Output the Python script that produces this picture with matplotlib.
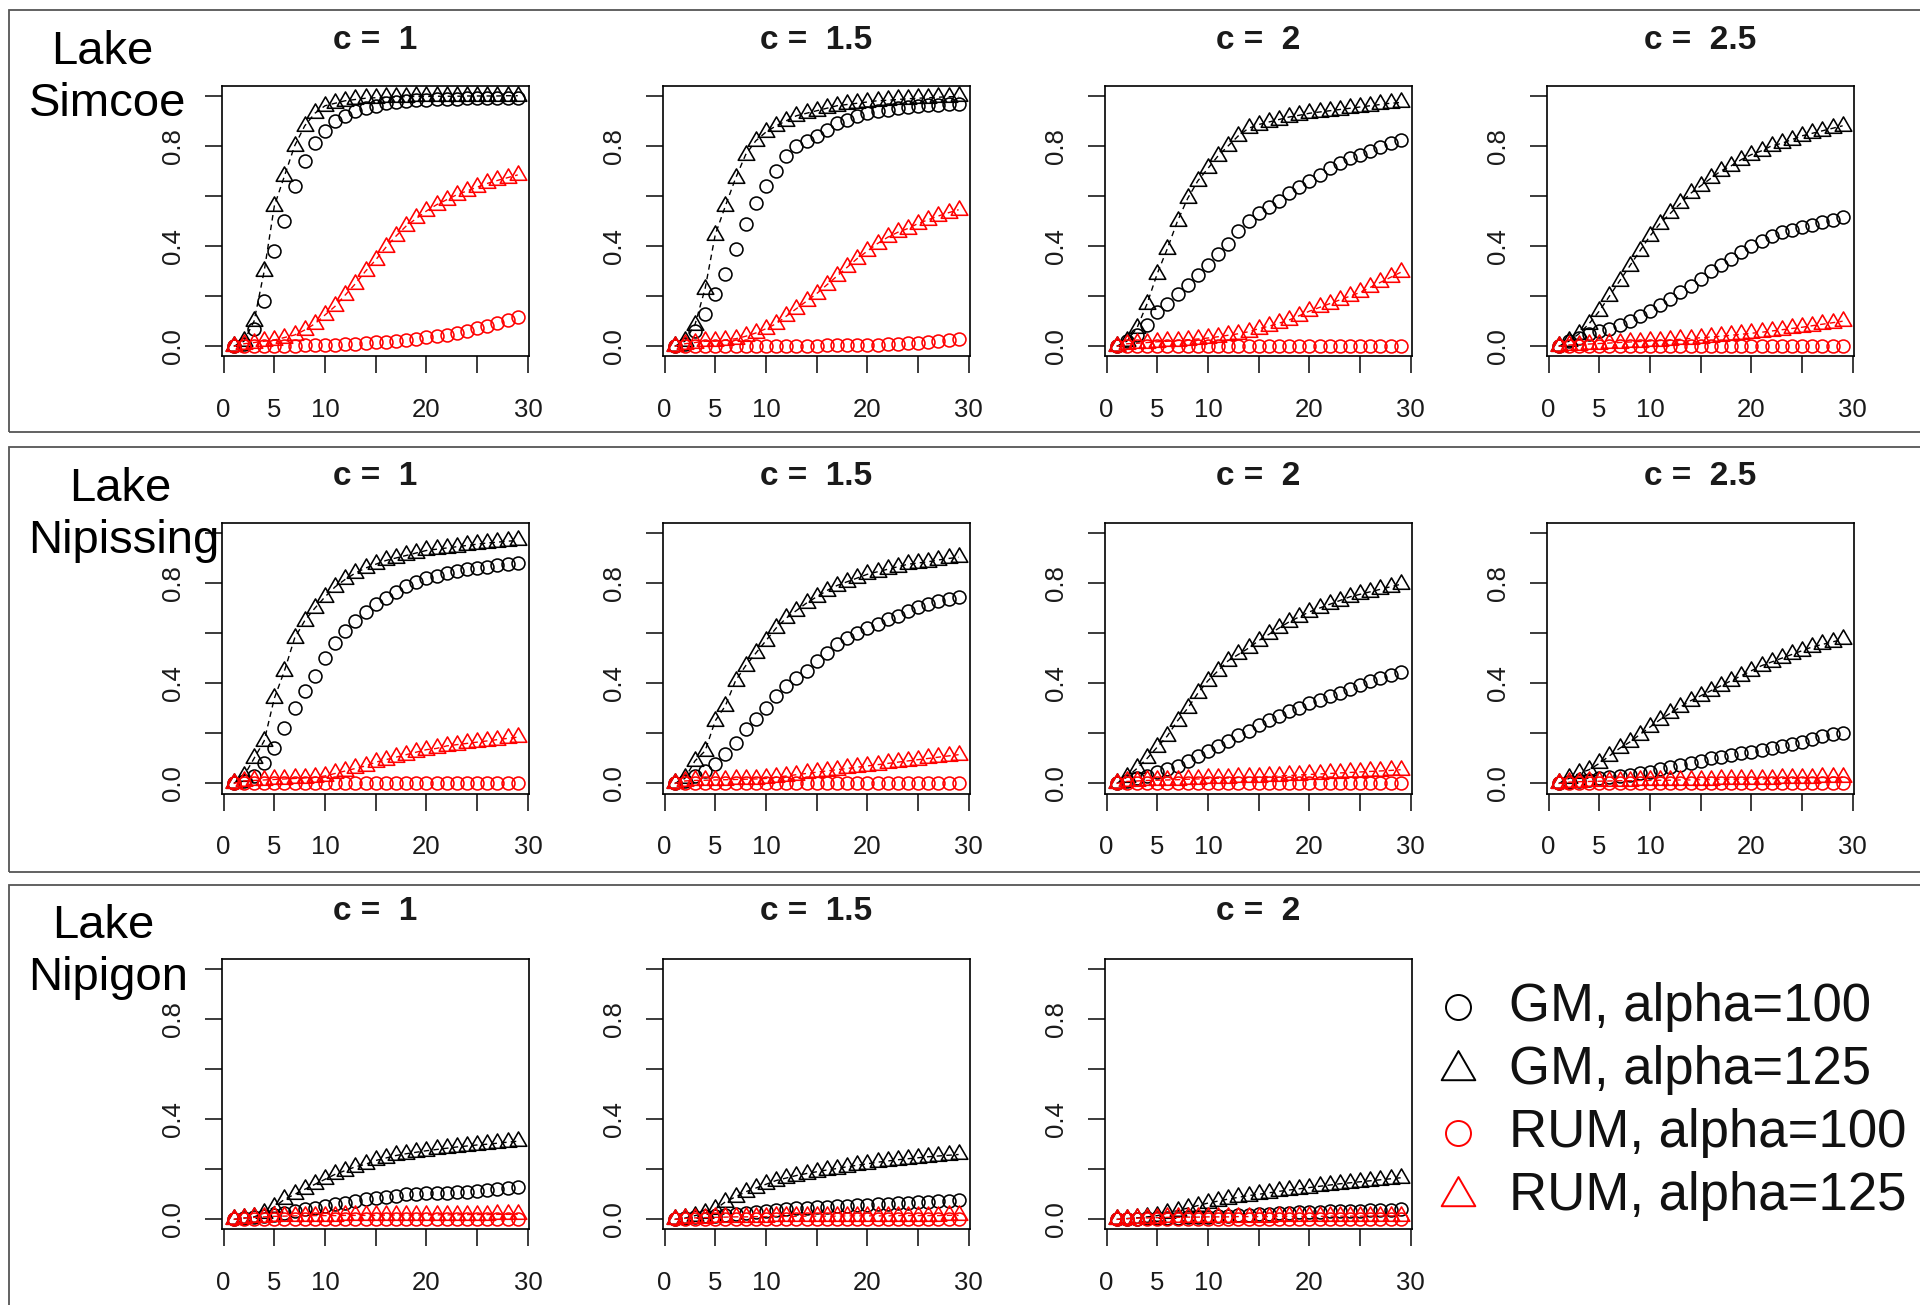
import numpy as np
import matplotlib
matplotlib.use("Agg")
import matplotlib.pyplot as plt
from matplotlib.path import Path
from matplotlib.lines import Line2D
from matplotlib.patches import Rectangle

plt.rcParams['font.family'] = ['Liberation Sans', 'DejaVu Sans']

# periods
t = np.arange(1, 30)

# ---- Lake Simcoe ----
sim_c1_gm100 = [0.0, 0.01, 0.07, 0.18, 0.38, 0.50, 0.64, 0.74, 0.81, 0.86, 0.90, 0.92, 0.94, 0.95, 0.96,
                0.97, 0.975, 0.98, 0.982, 0.984, 0.986, 0.987, 0.988, 0.989, 0.99, 0.99, 0.991, 0.992, 0.992]
sim_c1_gm125 = [0.0, 0.02, 0.10, 0.30, 0.56, 0.68, 0.80, 0.88, 0.93, 0.96, 0.97, 0.98, 0.985, 0.99, 0.992,
                0.994, 0.995, 0.996, 0.997, 0.997, 0.998, 0.998, 0.998, 0.999, 0.999, 0.999, 0.999, 1.0, 1.0]
sim_c1_rum100 = [0.0, 0.0, 0.001, 0.001, 0.002, 0.002, 0.003, 0.004, 0.004, 0.005, 0.007, 0.009, 0.011, 0.013, 0.016,
                 0.019, 0.023, 0.027, 0.031, 0.036, 0.041, 0.047, 0.054, 0.062, 0.071, 0.081, 0.092, 0.105, 0.118]
sim_c1_rum125 = [0.0, 0.01, 0.015, 0.02, 0.025, 0.035, 0.045, 0.065, 0.09, 0.125, 0.16, 0.205, 0.25, 0.30, 0.345,
                 0.395, 0.44, 0.48, 0.51, 0.54, 0.565, 0.585, 0.605, 0.62, 0.635, 0.65, 0.662, 0.673, 0.684]

sim_c15_gm100 = [0.0, 0.01, 0.06, 0.13, 0.21, 0.29, 0.39, 0.49, 0.57, 0.64, 0.70, 0.76, 0.80, 0.82, 0.84,
                 0.865, 0.89, 0.905, 0.92, 0.93, 0.94, 0.945, 0.95, 0.955, 0.958, 0.961, 0.964, 0.966, 0.968]
sim_c15_gm125 = [0.0, 0.02, 0.086, 0.23, 0.445, 0.56, 0.67, 0.765, 0.82, 0.855, 0.88, 0.90, 0.92, 0.93, 0.94,
                 0.95, 0.96, 0.965, 0.97, 0.975, 0.98, 0.982, 0.985, 0.988, 0.99, 0.992, 0.994, 0.996, 0.997]
sim_c15_rum100 = [0.0, 0.0, 0.0, 0.0, 0.0, 0.001, 0.001, 0.001, 0.001, 0.002, 0.002, 0.002, 0.003, 0.003, 0.003,
                  0.004, 0.004, 0.005, 0.005, 0.006, 0.007, 0.008, 0.01, 0.012, 0.014, 0.017, 0.02, 0.024, 0.029]
sim_c15_rum125 = [0.0, 0.01, 0.015, 0.02, 0.02, 0.025, 0.03, 0.04, 0.053, 0.07, 0.09, 0.12, 0.15, 0.18, 0.21,
                  0.245, 0.28, 0.315, 0.35, 0.38, 0.41, 0.435, 0.455, 0.47, 0.49, 0.505, 0.52, 0.533, 0.545]

sim_c2_gm100 = [0.0, 0.02, 0.045, 0.085, 0.135, 0.17, 0.21, 0.245, 0.285, 0.325, 0.37, 0.41, 0.46, 0.50, 0.53,
                0.555, 0.58, 0.61, 0.635, 0.66, 0.685, 0.71, 0.73, 0.75, 0.765, 0.78, 0.795, 0.81, 0.822]
sim_c2_gm125 = [0.0, 0.02, 0.073, 0.17, 0.29, 0.39, 0.50, 0.59, 0.66, 0.71, 0.76, 0.80, 0.84, 0.87, 0.885,
                0.895, 0.905, 0.915, 0.922, 0.93, 0.935, 0.94, 0.945, 0.95, 0.955, 0.96, 0.965, 0.97, 0.973]
sim_c2_rum100 = [0.0, 0.0, 0.0, 0.0, 0.0, 0.0, 0.0, 0.001, 0.001, 0.001, 0.001, 0.001, 0.001, 0.001, 0.001,
                 0.001, 0.001, 0.001, 0.001, 0.001, 0.002, 0.002, 0.002, 0.002, 0.002, 0.002, 0.002, 0.002, 0.002]
sim_c2_rum125 = [0.0, 0.01, 0.012, 0.015, 0.018, 0.02, 0.023, 0.026, 0.029, 0.033, 0.038, 0.044, 0.05, 0.058, 0.07,
                 0.08, 0.092, 0.105, 0.122, 0.14, 0.155, 0.17, 0.185, 0.20, 0.215, 0.235, 0.255, 0.275, 0.295]

sim_c25_gm100 = [0.0, 0.02, 0.035, 0.05, 0.06, 0.07, 0.085, 0.10, 0.12, 0.14, 0.165, 0.19, 0.215, 0.24, 0.27,
                 0.30, 0.325, 0.35, 0.375, 0.40, 0.42, 0.44, 0.455, 0.465, 0.475, 0.485, 0.495, 0.505, 0.515]
sim_c25_gm125 = [0.0, 0.02, 0.05, 0.09, 0.14, 0.20, 0.26, 0.32, 0.38, 0.44, 0.49, 0.53, 0.57, 0.61, 0.64,
                 0.67, 0.70, 0.72, 0.745, 0.765, 0.78, 0.80, 0.81, 0.825, 0.84, 0.85, 0.86, 0.87, 0.88]
sim_c25_rum100 = [0.0, 0.0, 0.0, 0.0, 0.0, 0.0, 0.0, 0.0, 0.0, 0.0, 0.0, 0.0, 0.0, 0.0, 0.0,
                  0.0, 0.0, 0.0, 0.0, 0.0, 0.0, 0.0, 0.0, 0.0, 0.0, 0.0, 0.0, 0.0, 0.0]
sim_c25_rum125 = [0.0, 0.005, 0.007, 0.009, 0.011, 0.013, 0.015, 0.017, 0.019, 0.021, 0.023, 0.025, 0.028, 0.031, 0.034,
                  0.037, 0.04, 0.044, 0.048, 0.052, 0.056, 0.061, 0.066, 0.071, 0.076, 0.082, 0.088, 0.094, 0.10]

# ---- Lake Nipissing ----
nip_c1_gm100 = [0.0, 0.01, 0.03, 0.08, 0.14, 0.22, 0.30, 0.37, 0.43, 0.50, 0.56, 0.61, 0.65, 0.685, 0.715,
                0.74, 0.765, 0.79, 0.805, 0.82, 0.83, 0.84, 0.85, 0.855, 0.86, 0.865, 0.87, 0.875, 0.88]
nip_c1_gm125 = [0.0, 0.03, 0.10, 0.17, 0.34, 0.45, 0.58, 0.65, 0.70, 0.745, 0.785, 0.815, 0.84, 0.86, 0.875,
                0.89, 0.90, 0.91, 0.92, 0.93, 0.935, 0.94, 0.945, 0.95, 0.955, 0.96, 0.963, 0.967, 0.97]
nip_c1_rum100 = [0.0, 0.0, 0.0, 0.0, 0.0, 0.0, 0.0, 0.0, 0.0, 0.0, 0.001, 0.001, 0.001, 0.001, 0.001,
                 0.001, 0.001, 0.001, 0.001, 0.001, 0.001, 0.001, 0.001, 0.001, 0.002, 0.002, 0.002, 0.002, 0.002]
nip_c1_rum125 = [0.0, 0.01, 0.012, 0.014, 0.016, 0.018, 0.02, 0.022, 0.025, 0.03, 0.04, 0.05, 0.06, 0.07, 0.085,
                 0.095, 0.105, 0.115, 0.125, 0.135, 0.14, 0.15, 0.155, 0.16, 0.165, 0.17, 0.175, 0.18, 0.185]

nip_c15_gm100 = [0.0, 0.01, 0.03, 0.05, 0.077, 0.117, 0.163, 0.217, 0.257, 0.30, 0.35, 0.39, 0.42, 0.45, 0.49,
                 0.52, 0.555, 0.58, 0.60, 0.62, 0.635, 0.655, 0.67, 0.69, 0.705, 0.715, 0.728, 0.738, 0.745]
nip_c15_gm125 = [0.0, 0.02, 0.09, 0.13, 0.25, 0.31, 0.41, 0.47, 0.52, 0.57, 0.62, 0.66, 0.69, 0.72, 0.745,
                 0.77, 0.79, 0.805, 0.82, 0.835, 0.845, 0.855, 0.865, 0.875, 0.88, 0.885, 0.892, 0.898, 0.903]
nip_c15_rum100 = [0.0, 0.0, 0.0, 0.0, 0.0, 0.0, 0.0, 0.0, 0.0, 0.0, 0.0, 0.0, 0.0, 0.0, 0.0,
                  0.0, 0.0, 0.0, 0.0, 0.0, 0.0, 0.0, 0.0, 0.0, 0.0, 0.0, 0.0, 0.0, 0.0]
nip_c15_rum125 = [0.0, 0.01, 0.012, 0.013, 0.014, 0.015, 0.016, 0.017, 0.018, 0.02, 0.025, 0.03, 0.035, 0.04, 0.045,
                  0.05, 0.055, 0.06, 0.065, 0.07, 0.075, 0.08, 0.085, 0.09, 0.095, 0.10, 0.105, 0.11, 0.115]

nip_c2_gm100 = [0.0, 0.01, 0.02, 0.03, 0.044, 0.057, 0.07, 0.09, 0.11, 0.13, 0.15, 0.17, 0.195, 0.21, 0.235,
                0.255, 0.27, 0.29, 0.30, 0.32, 0.335, 0.35, 0.363, 0.376, 0.395, 0.41, 0.422, 0.432, 0.443]
nip_c2_gm125 = [0.0, 0.025, 0.06, 0.10, 0.145, 0.19, 0.25, 0.30, 0.36, 0.41, 0.45, 0.49, 0.515, 0.54, 0.57,
                0.595, 0.62, 0.645, 0.665, 0.685, 0.70, 0.715, 0.73, 0.745, 0.755, 0.765, 0.775, 0.785, 0.795]
nip_c2_rum100 = [0.0, 0.0, 0.0, 0.0, 0.0, 0.0, 0.0, 0.0, 0.0, 0.0, 0.0, 0.0, 0.0, 0.0, 0.0,
                 0.0, 0.0, 0.0, 0.0, 0.0, 0.0, 0.0, 0.0, 0.0, 0.0, 0.0, 0.0, 0.0, 0.0]
nip_c2_rum125 = [0.0, 0.008, 0.01, 0.012, 0.013, 0.014, 0.015, 0.017, 0.018, 0.02, 0.021, 0.022, 0.024, 0.025, 0.026,
                 0.028, 0.03, 0.032, 0.034, 0.036, 0.038, 0.04, 0.042, 0.044, 0.046, 0.048, 0.05, 0.052, 0.055]

nip_c25_gm100 = [0.0, 0.005, 0.01, 0.015, 0.02, 0.025, 0.03, 0.035, 0.04, 0.046, 0.056, 0.066, 0.075, 0.082, 0.088,
                 0.10, 0.106, 0.112, 0.12, 0.126, 0.133, 0.14, 0.148, 0.158, 0.166, 0.178, 0.188, 0.196, 0.20]
nip_c25_gm125 = [0.0, 0.02, 0.04, 0.055, 0.08, 0.11, 0.14, 0.165, 0.195, 0.225, 0.255, 0.28, 0.305, 0.33, 0.35,
                 0.37, 0.39, 0.41, 0.43, 0.45, 0.47, 0.485, 0.50, 0.515, 0.53, 0.545, 0.555, 0.565, 0.575]
nip_c25_rum100 = [0.0, 0.0, 0.0, 0.0, 0.0, 0.0, 0.0, 0.0, 0.0, 0.0, 0.0, 0.0, 0.0, 0.0, 0.0,
                  0.0, 0.0, 0.0, 0.0, 0.0, 0.0, 0.0, 0.0, 0.0, 0.0, 0.0, 0.0, 0.0, 0.0]
nip_c25_rum125 = [0.0, 0.005, 0.007, 0.008, 0.009, 0.01, 0.011, 0.011, 0.012, 0.012, 0.013, 0.013, 0.014, 0.014, 0.015,
                  0.015, 0.016, 0.016, 0.017, 0.017, 0.018, 0.019, 0.02, 0.021, 0.022, 0.023, 0.024, 0.025, 0.026]

# ---- Lake Nipigon ----
ngn_c1_gm100 = [0.0, 0.005, 0.008, 0.012, 0.017, 0.025, 0.032, 0.04, 0.047, 0.054, 0.06, 0.065, 0.072, 0.08, 0.084,
                0.088, 0.094, 0.10, 0.102, 0.104, 0.105, 0.106, 0.108, 0.11, 0.113, 0.117, 0.121, 0.125, 0.128]
ngn_c1_gm125 = [0.0, 0.005, 0.01, 0.025, 0.05, 0.08, 0.10, 0.12, 0.14, 0.16, 0.18, 0.195, 0.21, 0.22, 0.235,
                0.245, 0.255, 0.262, 0.268, 0.274, 0.279, 0.284, 0.289, 0.293, 0.297, 0.30, 0.304, 0.308, 0.312]
ngn_c1_rum100 = [0.0, 0.0, 0.0, 0.0, 0.0, 0.0, 0.0, 0.0, 0.0, 0.0, 0.0, 0.0, 0.0, 0.0, 0.0,
                 0.0, 0.0, 0.0, 0.0, 0.0, 0.0, 0.0, 0.0, 0.0, 0.0, 0.0, 0.0, 0.0, 0.0]
ngn_c1_rum125 = [0.0, 0.006, 0.008, 0.01, 0.012, 0.013, 0.014, 0.014, 0.015, 0.015, 0.015, 0.016, 0.016, 0.016, 0.016,
                 0.017, 0.017, 0.017, 0.017, 0.018, 0.018, 0.018, 0.018, 0.019, 0.019, 0.019, 0.02, 0.02, 0.02]

ngn_c15_gm100 = [0.0, 0.004, 0.008, 0.012, 0.015, 0.018, 0.022, 0.026, 0.03, 0.034, 0.038, 0.041, 0.044, 0.047, 0.049,
                 0.051, 0.053, 0.055, 0.057, 0.059, 0.061, 0.063, 0.065, 0.067, 0.069, 0.071, 0.073, 0.075, 0.077]
ngn_c15_gm125 = [0.0, 0.005, 0.015, 0.025, 0.04, 0.07, 0.09, 0.11, 0.125, 0.14, 0.155, 0.165, 0.175, 0.183, 0.19,
                 0.197, 0.203, 0.21, 0.216, 0.222, 0.228, 0.233, 0.238, 0.242, 0.246, 0.25, 0.253, 0.256, 0.259]
ngn_c15_rum100 = [0.0, 0.0, 0.0, 0.0, 0.0, 0.0, 0.0, 0.0, 0.0, 0.0, 0.0, 0.0, 0.0, 0.0, 0.0,
                  0.0, 0.0, 0.0, 0.0, 0.0, 0.0, 0.0, 0.0, 0.0, 0.0, 0.0, 0.0, 0.0, 0.0]
ngn_c15_rum125 = [0.0, 0.004, 0.006, 0.007, 0.008, 0.009, 0.01, 0.01, 0.011, 0.011, 0.012, 0.012, 0.012, 0.013, 0.013,
                  0.013, 0.013, 0.014, 0.014, 0.014, 0.014, 0.014, 0.015, 0.015, 0.015, 0.015, 0.015, 0.016, 0.016]

ngn_c2_gm100 = [0.0, 0.002, 0.003, 0.004, 0.005, 0.006, 0.007, 0.008, 0.009, 0.01, 0.012, 0.014, 0.016, 0.018, 0.02,
                0.022, 0.024, 0.026, 0.028, 0.03, 0.031, 0.032, 0.033, 0.034, 0.035, 0.036, 0.037, 0.038, 0.04]
ngn_c2_gm125 = [0.0, 0.003, 0.006, 0.01, 0.015, 0.025, 0.035, 0.045, 0.055, 0.065, 0.073, 0.081, 0.088, 0.095, 0.10,
                0.106, 0.112, 0.117, 0.122, 0.127, 0.132, 0.137, 0.142, 0.146, 0.15, 0.154, 0.158, 0.162, 0.166]
ngn_c2_rum100 = [0.0, 0.0, 0.0, 0.0, 0.0, 0.0, 0.0, 0.0, 0.0, 0.0, 0.0, 0.0, 0.0, 0.0, 0.0,
                 0.0, 0.0, 0.0, 0.0, 0.0, 0.0, 0.0, 0.0, 0.0, 0.0, 0.0, 0.0, 0.0, 0.0]
ngn_c2_rum125 = [0.0, 0.003, 0.005, 0.006, 0.007, 0.008, 0.008, 0.009, 0.009, 0.01, 0.01, 0.01, 0.011, 0.011, 0.011,
                 0.011, 0.012, 0.012, 0.012, 0.012, 0.012, 0.013, 0.013, 0.013, 0.013, 0.013, 0.013, 0.014, 0.014]

lake_names = [("Lake", "Simcoe"), ("Lake", "Nipissing"), ("Lake", "Nipigon")]
c_values = ["1", "1.5", "2", "2.5"]
panels = [
    [(sim_c1_gm100, sim_c1_gm125, sim_c1_rum100, sim_c1_rum125),
     (sim_c15_gm100, sim_c15_gm125, sim_c15_rum100, sim_c15_rum125),
     (sim_c2_gm100, sim_c2_gm125, sim_c2_rum100, sim_c2_rum125),
     (sim_c25_gm100, sim_c25_gm125, sim_c25_rum100, sim_c25_rum125)],
    [(nip_c1_gm100, nip_c1_gm125, nip_c1_rum100, nip_c1_rum125),
     (nip_c15_gm100, nip_c15_gm125, nip_c15_rum100, nip_c15_rum125),
     (nip_c2_gm100, nip_c2_gm125, nip_c2_rum100, nip_c2_rum125),
     (nip_c25_gm100, nip_c25_gm125, nip_c25_rum100, nip_c25_rum125)],
    [(ngn_c1_gm100, ngn_c1_gm125, ngn_c1_rum100, ngn_c1_rum125),
     (ngn_c15_gm100, ngn_c15_gm125, ngn_c15_rum100, ngn_c15_rum125),
     (ngn_c2_gm100, ngn_c2_gm125, ngn_c2_rum100, ngn_c2_rum125)],
]
legend_labels = ["GM, alpha=100", "GM, alpha=125", "RUM, alpha=100", "RUM, alpha=125"]

# R-style open triangle (centroid on the data point)
tri = Path([(0, 1), (0.866, -0.5), (-0.866, -0.5), (0, 1)],
           [Path.MOVETO, Path.LINETO, Path.LINETO, Path.CLOSEPOLY])
styles = [dict(color="black", marker="o", ms=9.3, ls="none"),
          dict(color="black", marker=tri, ms=13.8, ls=(0, (4, 3))),
          dict(color="red", marker="o", ms=9.3, ls="none"),
          dict(color="red", marker=tri, ms=13.8, ls=(0, (4, 3)))]

W, H = 1920, 1305
fig = plt.figure(figsize=(W / 100, H / 100), dpi=100)

col_left = [221.6, 662.5, 1104.5, 1546.5]
row_top = [85.7, 522.9, 958.8]
box_w, box_h = 307.3, 270.6

# row frames
frames = [(9.8, 432.3), (447.0, 872.0), (885.0, 1330.0)]
for top, bot in frames:
    fig.add_artist(Rectangle((8.6 / W, 1 - bot / H), (1940 - 8.6) / W, (bot - top) / H,
                             transform=fig.transFigure, fill=False, edgecolor="#555555", lw=1.3))

title_base = [49.0, 485.5, 920.5]
lake_text = [((102, 64), (108, 116)), ((120, 501), (124, 553)), ((103, 938), (108, 990))]

for r, row in enumerate(panels):
    for c, series in enumerate(row):
        ax = fig.add_axes([col_left[c] / W, 1 - (row_top[r] + box_h) / H, box_w / W, box_h / H])
        for ys, st in zip(series, styles):
            ax.plot(t, ys, color=st["color"], linestyle=st["ls"], linewidth=1.0,
                    marker=st["marker"], markersize=st["ms"], markerfacecolor="none",
                    markeredgewidth=1.15)
        ax.set_xlim(-0.2, 30.1)
        ax.set_ylim(-0.04, 1.04)
        ax.set_xticks([0, 5, 10, 15, 20, 25, 30])
        ax.set_xticklabels(["0", "5", "10", "", "20", "", "30"])
        ax.set_yticks([0.0, 0.2, 0.4, 0.6, 0.8, 1.0])
        ax.set_yticklabels(["0.0", "", "0.4", "", "0.8", ""], rotation=90, va="center")
        ax.tick_params(axis="both", length=12, width=1.2, labelsize=18.5, colors="#1a1a1a")
        ax.tick_params(axis="x", pad=18)
        ax.tick_params(axis="y", pad=14)
        for sp in ax.spines.values():
            sp.set_linewidth(1.2)
        cx = (col_left[c] + box_w / 2) / W
        fig.text(cx, 1 - title_base[r] / H, "c =  " + c_values[c], ha="center", va="baseline",
                 fontsize=24, fontweight="bold", color="#1a1a1a")
    (lx1, ly1), (lx2, ly2) = lake_text[r]
    fig.text(lx1 / W, 1 - ly1 / H, lake_names[r][0], ha="center", va="baseline", fontsize=34)
    fig.text(lx2 / W, 1 - ly2 / H, lake_names[r][1], ha="center", va="baseline", fontsize=34)

# legend in the empty bottom-right slot
leg_y = [1007, 1070, 1133, 1196]
for lab, st, y in zip(legend_labels, styles, leg_y):
    ms = 18 if st["marker"] == "o" else 28
    fig.add_artist(Line2D([1458 / W], [1 - y / H], transform=fig.transFigure, linestyle="none",
                          marker=st["marker"], markersize=ms, markerfacecolor="none",
                          markeredgecolor=st["color"], markeredgewidth=1.4))
    fig.text(1509 / W, 1 - y / H, lab, ha="left", va="center", fontsize=38, color="#111111")

fig.savefig("out.png", dpi=100)
